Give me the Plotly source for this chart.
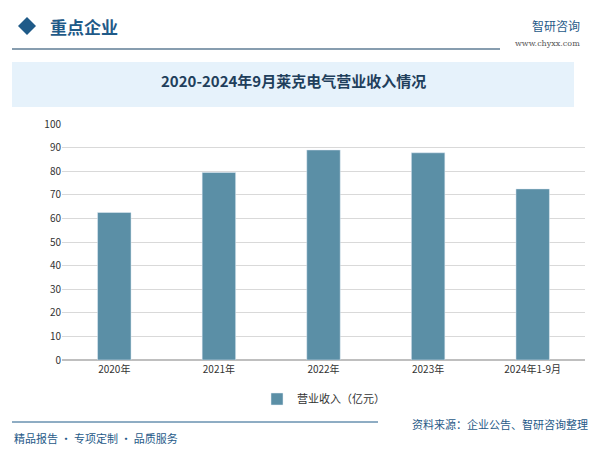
import plotly.graph_objects as go

categories = ["2020年", "2021年", "2022年", "2023年", "2024年1-9月"]
revenue = [62.5, 79.5, 89.0, 87.8, 72.5]
series_name = "营业收入（亿元）"

FONT = "Noto Sans CJK SC"
L, R, T, B = 62, 15, 124, 93
PW, PH = 600 - L - R, 453 - T - B

def px(x): return (x - L) / PW
def py(y): return (453 - B - y) / PH

fig = go.Figure(go.Bar(x=categories, y=revenue, name=series_name,
                       marker_color="#5b8fa6", width=0.32))

shapes = [
    dict(type="rect", xref="paper", yref="paper", x0=px(12), x1=px(574), y0=py(107), y1=py(62),
         fillcolor="#e6f2fb", line_width=0, layer="below"),
    dict(type="line", xref="paper", yref="paper", x0=px(12), x1=px(500), y0=py(49), y1=py(49),
         line=dict(color="#5f7d95", width=1.5)),
    dict(type="line", xref="paper", yref="paper", x0=px(12), x1=px(378), y0=py(422), y1=py(422),
         line=dict(color="#1f5a88", width=1)),
    dict(type="path", xref="paper", yref="paper",
         path=f"M {px(18)} {py(26)} L {px(27)} {py(17)} L {px(36)} {py(26)} L {px(27)} {py(35)} Z",
         fillcolor="#1f5a88", line_width=0),
]

ann = [
    dict(text="<b>2020-2024年9月莱克电气营业收入情况</b>", x=px(293), y=py(80), font=dict(size=15, color="#1f3f5c", family=FONT)),
    dict(text="<b>重点企业</b>", x=px(48), y=py(26), xanchor="left", font=dict(size=17, color="#1f5a88", family=FONT)),
    dict(text="智研咨询", x=px(582), y=py(25), xanchor="right", font=dict(size=12, color="#1f5a88", family=FONT)),
    dict(text="www.chyxx.com", x=px(582), y=py(43), xanchor="right", font=dict(size=8, color="#555555", family="DejaVu Serif")),
    dict(text="资料来源：企业公告、智研咨询整理", x=px(590), y=py(424), xanchor="right", font=dict(size=11, color="#1f5a88", family=FONT)),
    dict(text="精品报告 · 专项定制 · 品质服务", x=px(12), y=py(438), xanchor="left", font=dict(size=11, color="#1f5a88", family=FONT)),
]
for a in ann:
    a.update(xref="paper", yref="paper", showarrow=False, yanchor="middle")

fig.update_layout(
    width=600, height=453, margin=dict(l=L, r=R, t=T, b=B),
    paper_bgcolor="white", plot_bgcolor="white",
    font=dict(family=FONT, size=10, color="#333333"),
    shapes=shapes, annotations=ann,
    showlegend=True,
    legend=dict(orientation="h", x=0.5, xanchor="center", y=py(399), yanchor="middle",
                font=dict(size=11, color="#333333"), itemwidth=30),
)
fig.update_yaxes(range=[0, 100], dtick=10, gridcolor="#d9d9d9", showline=False, zeroline=True,
                 zerolinecolor="#bfbfbf", tickfont=dict(size=10))
fig.update_xaxes(showline=True, linecolor="#bfbfbf", tickfont=dict(size=10))

fig.write_html("out.html", config={"displayModeBar": False})
with open("out.html", encoding="utf-8") as f:
    html = f.read()
html = html.replace("<head>", "<head><style>html,body{margin:0;padding:0;overflow:hidden}</style>", 1)
with open("out.html", "w", encoding="utf-8") as f:
    f.write(html)
